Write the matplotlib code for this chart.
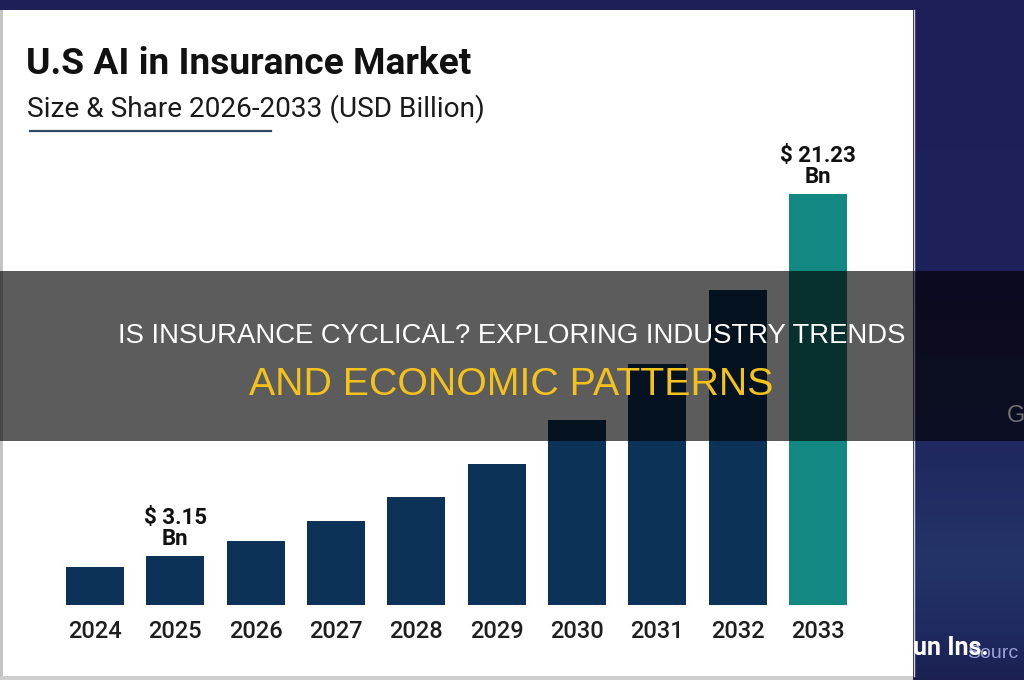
import numpy as np
import matplotlib.pyplot as plt
from matplotlib.patches import Rectangle
from matplotlib.colors import to_rgb

# ---------------- data ----------------
years = ['2024', '2025', '2026', '2027', '2028', '2029', '2030', '2031', '2032', '2033']
values = [2.60, 3.15, 3.90, 4.90, 6.09, 7.74, 9.94, 12.74, 16.43, 21.23]
bar_colors = ['#0c3357'] * 9 + ['#138883']
annot_idx = [1, 9]
annot_text = ['$ 3.15\nBn', '$ 21.23\nBn']

title = 'U.S AI in Insurance Market'
subtitle = 'Size & Share 2026-2033 (USD Billion)'
banner_line1 = 'IS INSURANCE CYCLICAL? EXPLORING INDUSTRY TRENDS'
banner_line2 = 'AND ECONOMIC PATTERNS'

plt.rcParams['font.family'] = ['Roboto', 'DejaVu Sans']
banner_font = ['Liberation Sans', 'DejaVu Sans']

W, H = 1024, 680
fig = plt.figure(figsize=(10.24, 6.8), dpi=100)

# ---------------- background ----------------
bg = fig.add_axes([0, 0, 1, 1], zorder=-10)
bg.set_xlim(0, W)
bg.set_ylim(H, 0)
bg.axis('off')
stops_y = [0, 300, 470, 560, 630, 680]
stops_c = ['#1e1f58', '#1f215a', '#212a60', '#243468', '#1f2a60', '#1b2050']
ys = np.arange(H)
cols = np.array([to_rgb(c) for c in stops_c])
grad = np.stack([np.interp(ys, stops_y, cols[:, k]) for k in range(3)], axis=-1)
grad = np.repeat(grad[:, None, :], 4, axis=1)
bg.imshow(grad, extent=[0, W, H, 0], aspect='auto', zorder=0)
bg.add_patch(Rectangle((3, 10), 910, 666, fc='white', ec='none', zorder=1))
bg.add_patch(Rectangle((0, 10), 3, 670, fc='#c4c4c4', ec='none', zorder=1))
bg.add_patch(Rectangle((0, 676), 913, 4, fc='#cdcdcd', ec='none', zorder=1))
bg.plot([913.5, 913.5], [10, 676], color='#cfd1e6', lw=1, zorder=2)

bg.text(26, 74, title, fontsize=26.7, fontweight='bold', color='#111111', va='baseline', ha='left', zorder=3)
bg.text(27, 117, subtitle, fontsize=20.2, color='#1a1a1a', va='baseline', ha='left', zorder=3)
bg.plot([30, 271], [130.5, 130.5], color='#2e4a63', lw=1.6, zorder=3)

# ---------------- chart ----------------
px_per_unit = 20.02
base_val = 0.70
top_px = 140
ax = fig.add_axes([54.8 / W, (H - 605) / H, 803.3 / W, (605 - top_px) / H], zorder=0)
ax.set_facecolor('none')
x = np.arange(len(years))
ax.bar(x, values, width=0.72, color=bar_colors, zorder=2)
ax.set_xlim(-0.5, len(years) - 0.5)
ax.set_ylim(base_val, base_val + (605 - top_px) / px_per_unit)
for s in ax.spines.values():
    s.set_visible(False)
ax.set_yticks([])
ax.set_xticks(x, years)
ax.tick_params(axis='x', length=0, pad=11, labelsize=17, labelcolor='#1e1e1e')
for lab in ax.get_xticklabels():
    lab.set_fontweight('medium')
for i, t in zip(annot_idx, annot_text):
    ax.annotate(t, (x[i], values[i]), xytext=(0, 4), textcoords='offset points',
                ha='center', va='bottom', fontsize=16, fontweight='bold',
                color='#111111', linespacing=0.95, zorder=3)

# ---------------- overlay banner ----------------
ov = fig.add_axes([0, 0, 1, 1], zorder=10)
ov.set_xlim(0, W)
ov.set_ylim(H, 0)
ov.axis('off')
ov.patch.set_alpha(0)
ov.add_patch(Rectangle((0, 271), W, 170, fc='black', alpha=0.64, ec='none'))
ov.text(512, 343, banner_line1, fontsize=19.8, color='white', ha='center', va='baseline',
        family=banner_font)
ov.text(511, 395, banner_line2, fontsize=28.3, color='#f5c21b', ha='center', va='baseline',
        family=banner_font)
ov.text(1007, 422, 'G', fontsize=17, color='#6f6f6f', ha='left', va='baseline', family=banner_font)
ov.text(967, 658, 'Sourc', fontsize=14, color='#9aa0d8', ha='left', va='baseline', family=banner_font)
ov.text(913, 655, 'un Ins.', fontsize=18, color='white', fontweight='bold', ha='left', va='baseline')

fig.savefig('out.png', dpi=100)
